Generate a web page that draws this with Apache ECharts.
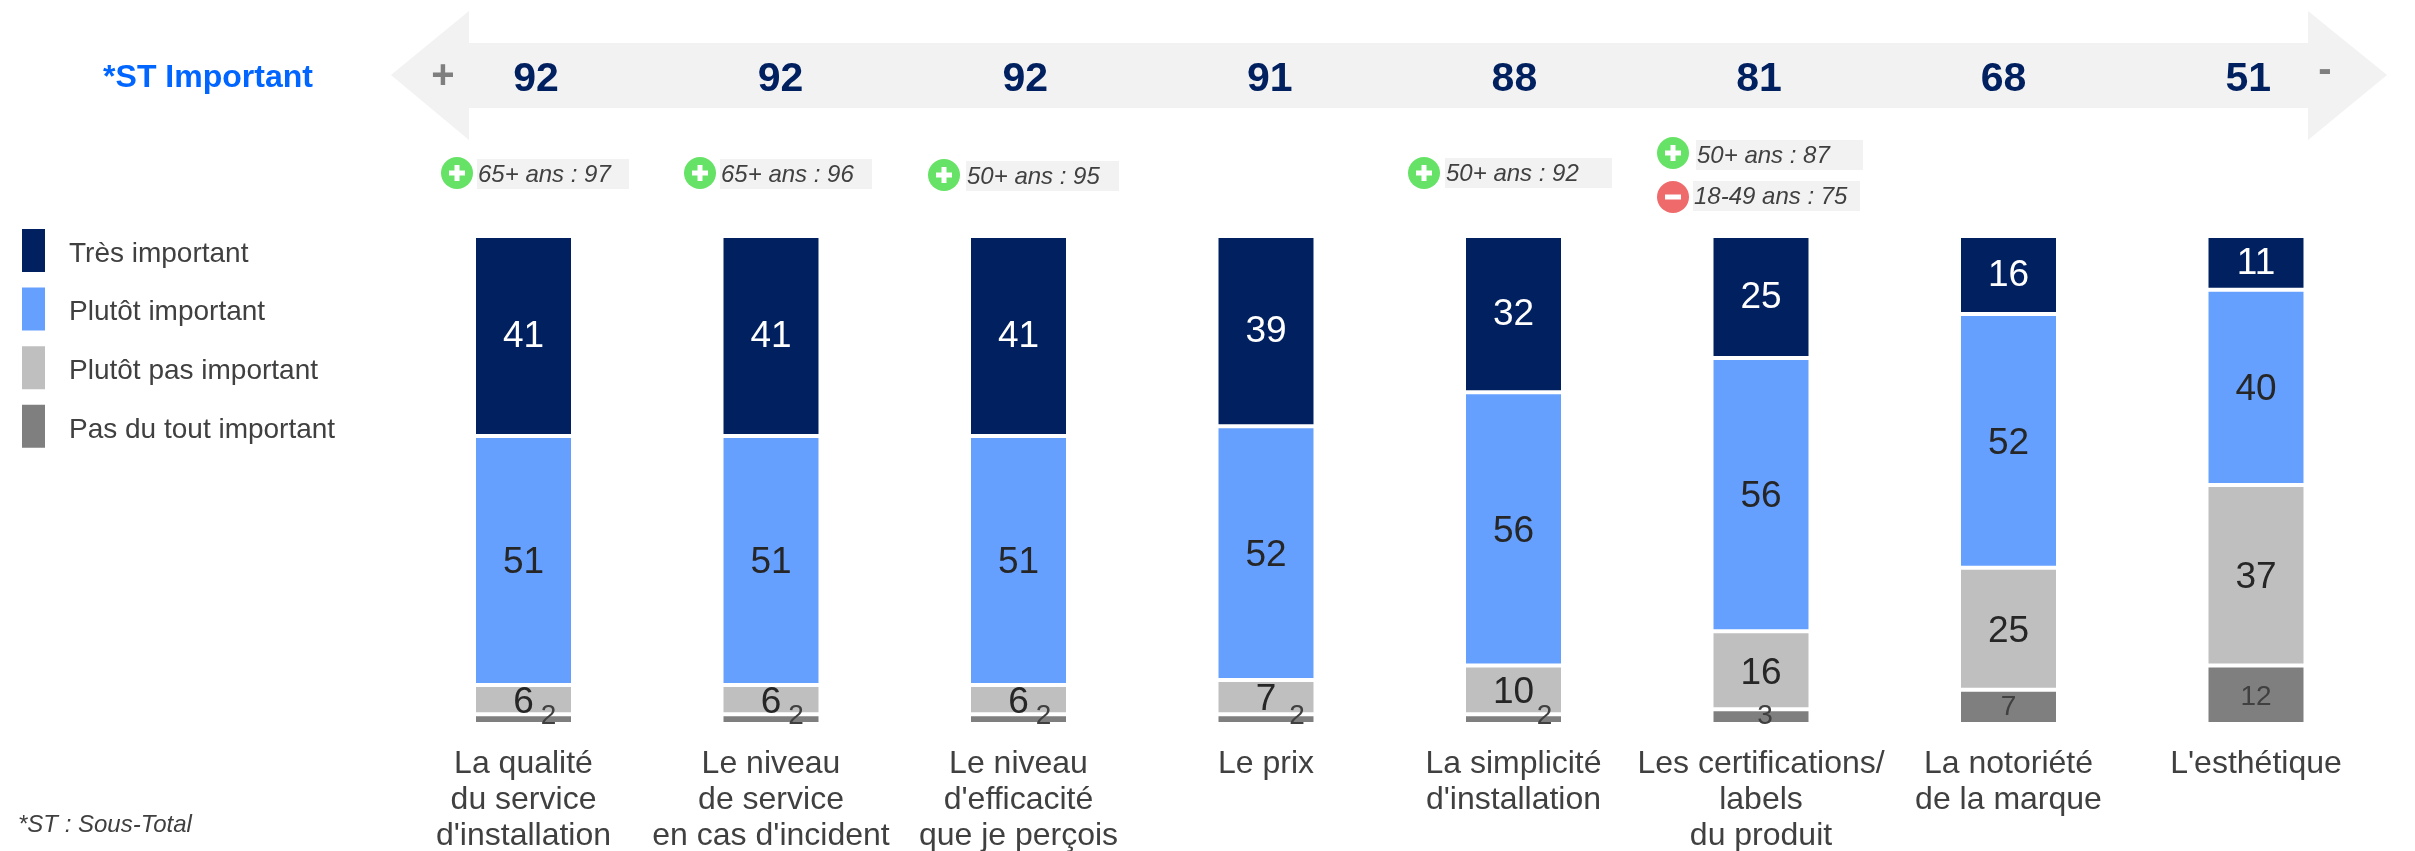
<!DOCTYPE html>
<html>
<head>
<meta charset="utf-8">
<title>ST Important</title>
<script src="https://cdn.jsdelivr.net/npm/echarts@6/dist/echarts.min.js"></script>
<style>
  html, body { margin: 0; padding: 0; background: #fff; }
  #host { width: 2415px; height: 851px; }
</style>
</head>
<body>
<div id="host"></div>
<script>
const categories = [
  "La qualité\ndu service\nd'installation",
  "Le niveau\nde service\nen cas d'incident",
  "Le niveau\nd'efficacité\nque je perçois",
  "Le prix",
  "La simplicité\nd'installation",
  "Les certifications/\nlabels\ndu produit",
  "La notoriété\nde la marque",
  "L'esthétique",
];
const seriesNames = ["Très important", "Plutôt important", "Plutôt pas important", "Pas du tout important"];
const tresImportant = [41, 41, 41, 39, 32, 25, 16, 11];
const plutotImportant = [51, 51, 51, 52, 56, 56, 52, 40];
const plutotPasImportant = [6, 6, 6, 7, 10, 16, 25, 37];
const pasDuToutImportant = [2, 2, 2, 2, 2, 3, 7, 12];
const stImportant = [92, 92, 92, 91, 88, 81, 68, 51];
const calloutTexts = ["65+ ans : 97", "65+ ans : 96", "50+ ans : 95", "50+ ans : 92", "50+ ans : 87", "18-49 ans : 75"];
const calloutSigns = ["+", "+", "+", "+", "+", "-"];

const FONT = "Liberation Sans, Arial, sans-serif";
const colors = ["#002060", "#66a0ff", "#bfbfbf", "#7f7f7f"];
const labelColors = ["#ffffff", "#262626", "#262626", "#404040"];
const labelSizes = [37, 37, 37, 28];
const labelOffsets = [[0, 1], [0, 2.5], [0, 3], [0, 0]];

// small segments: the labels are pushed aside so they stay readable
const bottomNudges = [[25, -3], [25, -3], [25, -3], [31, -3], [31, -3], [4, 0], [0, 0], [0, 3]];

// x, y of the circle, then rect left, right, top
const calloutBoxes = [
  [457, 173, 477, 629, 159],
  [700, 173, 720, 872, 159],
  [944, 175, 966, 1119, 161],
  [1424, 173, 1445, 1612, 158],
  [1673, 153, 1696, 1863, 140],
  [1673, 197, 1693, 1860, 181],
];

function barSeries(i, values, nudges) {
  return {
    name: seriesNames[i],
    type: "bar",
    stack: "total",
    barWidth: 99,
    xAxisIndex: 0,
    yAxisIndex: 0,
    itemStyle: { color: colors[i], borderColor: "#ffffff", borderWidth: 2 },
    label: {
      show: true,
      position: "inside",
      offset: labelOffsets[i],
      color: labelColors[i],
      fontFamily: FONT,
      fontSize: labelSizes[i],
    },
    data: values.map((v, k) => (nudges ? { value: v, label: { offset: nudges[k] } } : v)),
  };
}

function calloutGraphics() {
  const out = [];
  calloutTexts.forEach((text, i) => {
    const [cx, cy, left, right, top] = calloutBoxes[i];
    const plus = calloutSigns[i] === "+";
    out.push({
      type: "rect",
      shape: { x: left, y: top, width: right - left, height: 30 },
      style: { fill: "#f2f2f2" },
    });
    out.push({
      type: "text",
      style: {
        x: left + 1, y: top + 16, text,
        font: "italic 24px " + FONT,
        fill: "#404040", textVerticalAlign: "middle",
      },
    });
    out.push({
      type: "circle",
      shape: { cx, cy, r: 16 },
      style: { fill: plus ? "#66e366" : "#ef6b6b" },
    });
    out.push({
      type: "rect",
      shape: { x: cx - 8, y: cy - 2.5, width: 16, height: 5 },
      style: { fill: "#ffffff" },
    });
    if (plus) {
      out.push({
        type: "rect",
        shape: { x: cx - 2.5, y: cy - 8, width: 5, height: 16 },
        style: { fill: "#ffffff" },
      });
    }
  });
  return out;
}

const chart = echarts.init(document.getElementById("host"));
chart.setOption({
  animation: false,
  backgroundColor: "#ffffff",
  textStyle: { fontFamily: FONT },
  legend: {
    data: seriesNames,
    orient: "vertical",
    left: 22,
    top: 229,
    padding: 0,
    itemWidth: 23,
    itemHeight: 43,
    itemGap: 15.6,
    icon: "rect",
    selectedMode: false,
    itemStyle: { borderWidth: 0 },
    formatter: (name) => `{t|${name}}`,
    textStyle: {
      color: "#404040",
      fontSize: 28,
      fontFamily: FONT,
      padding: [0, 0, 0, 19],
      rich: { t: { color: "#404040", fontSize: 28, fontFamily: FONT, padding: [7, 0, 0, 0] } },
    },
  },
  grid: [
    { left: 399.75, width: 1980, top: 236, height: 488, outerBoundsMode: "none" },
    { left: 413.7, width: 1956.8, top: 20, height: 60, outerBoundsMode: "none" },
  ],
  xAxis: [
    {
      type: "category",
      gridIndex: 0,
      data: categories,
      axisLine: { show: false },
      axisTick: { show: false },
      axisLabel: {
        interval: 0,
        margin: 22,
        color: "#404040",
        fontSize: 32,
        lineHeight: 36,
        fontFamily: FONT,
        verticalAlign: "top",
      },
    },
    {
      type: "category",
      gridIndex: 1,
      data: stImportant.map(String),
      axisLine: { show: false },
      axisTick: { show: false },
      axisLabel: {
        interval: 0,
        margin: 0,
        color: "#002060",
        fontSize: 41,
        fontWeight: "bold",
        fontFamily: FONT,
        verticalAlign: "middle",
      },
    },
  ],
  yAxis: [
    { type: "value", gridIndex: 0, min: 0, max: 100, inverse: true, show: false },
    { type: "value", gridIndex: 1, min: 0, max: 100, show: false },
  ],
  graphic: { elements: [
    {
      type: "polygon",
      z: -10,
      shape: { points: [[391, 75], [469, 11], [469, 43], [2308, 43], [2308, 11], [2387, 75], [2308, 140], [2308, 108], [469, 108], [469, 140]] },
      style: { fill: "#f2f2f2" },
    },
    { type: "text", style: { x: 208, y: 78, text: "*ST Important", font: "bold 32px " + FONT, fill: "#0066ff", textAlign: "center", textVerticalAlign: "middle" } },
    { type: "text", style: { x: 443, y: 77, text: "+", font: "bold 40px " + FONT, fill: "#7f7f7f", textAlign: "center", textVerticalAlign: "middle" } },
    { type: "text", style: { x: 2325, y: 71, text: "-", font: "bold 40px " + FONT, fill: "#7f7f7f", textAlign: "center", textVerticalAlign: "middle" } },
    { type: "text", style: { x: 18, y: 825, text: "*ST : Sous-Total", font: "italic 24px " + FONT, fill: "#404040", textVerticalAlign: "middle" } },
    ...calloutGraphics(),
  ] },
  series: [
    barSeries(0, tresImportant),
    barSeries(1, plutotImportant),
    barSeries(2, plutotPasImportant),
    barSeries(3, pasDuToutImportant, bottomNudges),
  ],
});
window.addEventListener("resize", () => chart.resize());
</script>
</body>
</html>
